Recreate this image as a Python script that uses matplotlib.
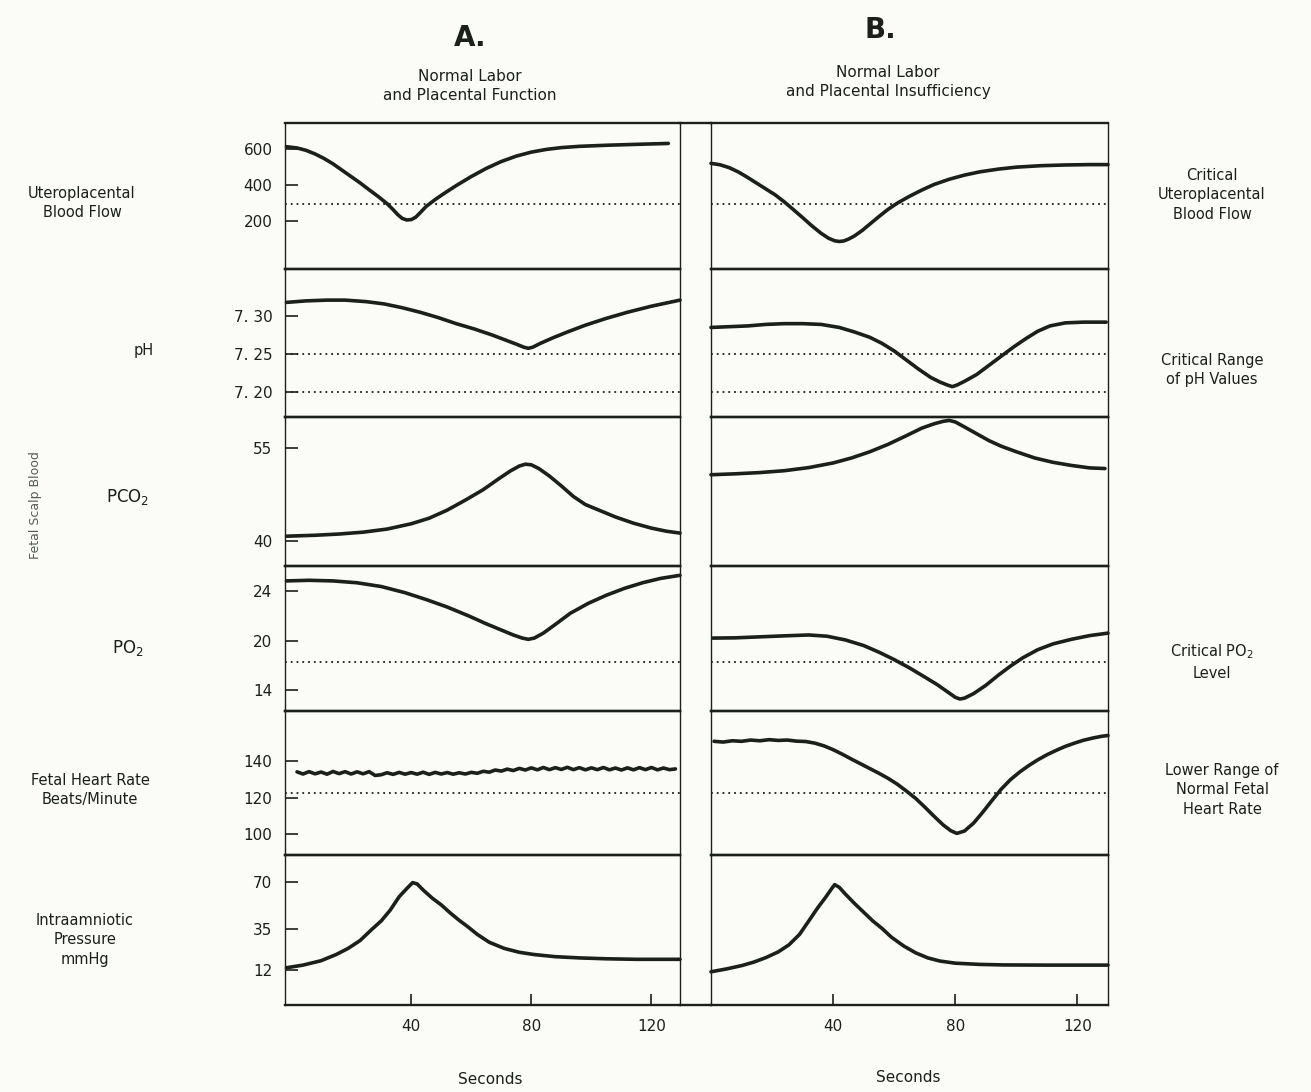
import numpy as np
import matplotlib.pyplot as plt
from matplotlib.lines import Line2D

# ---- values (time in seconds) ----
# A. normal labor and placental function
flow_a_t = [-1.5, 2, 5, 8, 11, 14, 17, 20, 23, 26, 29, 32, 34, 35.5, 37, 38.5, 40, 41.5, 43,
            45, 48, 51, 55, 60, 65, 70, 75, 80, 85, 90, 96, 105, 115, 125.6]
flow_a = [610, 603, 590, 570, 545, 515, 480, 445, 410, 372, 335, 295, 262, 235, 214, 205, 207,
          220, 245, 280, 318, 352, 395, 445, 490, 528, 558, 580, 595, 605, 612, 618, 623, 628]

ph_a_t = [-1.5, 5, 12, 18, 25, 31, 37, 43, 49, 55, 61, 67, 71, 75, 77.5, 79, 80.5, 83, 87,
          92, 98, 105, 112, 120, 129.5]
ph_a = [7.318, 7.320, 7.321, 7.321, 7.319, 7.316, 7.311, 7.305, 7.298, 7.290, 7.283, 7.275,
        7.269, 7.263, 7.259, 7.2575, 7.259, 7.264, 7.271, 7.279, 7.288, 7.297, 7.305, 7.313,
        7.321]

pco2_a_t = [-1.5, 8, 16, 24, 32, 40, 46, 52, 58, 64, 69, 73, 76, 78, 80, 82.5, 86, 90, 94,
            98, 103, 108, 114, 120, 125, 129.5]
pco2_a = [40.8, 40.95, 41.15, 41.45, 41.95, 42.8, 43.7, 45.0, 46.6, 48.3, 50.0, 51.3, 52.1,
          52.4, 52.3, 51.7, 50.5, 48.9, 47.2, 45.9, 44.9, 43.9, 42.9, 42.1, 41.6, 41.3]

po2_a_t = [-1.5, 6, 14, 22, 30, 38, 45, 52, 59, 65, 70, 74, 77, 79, 81, 84, 88, 93, 99, 105,
           111, 117, 123, 129.5]
po2_a = [24.8, 24.85, 24.8, 24.65, 24.35, 23.85, 23.3, 22.7, 22.0, 21.35, 20.85, 20.45, 20.2,
         20.1, 20.2, 20.6, 21.3, 22.2, 23.0, 23.65, 24.2, 24.65, 25.0, 25.25]

fhr_a_t = [2, 4, 6, 8, 10, 12, 14, 16, 18, 20, 22, 24, 26, 28, 30, 32, 34, 36, 38, 40,
           42, 44, 46, 48, 50, 52, 54, 56, 58, 60, 62, 64, 66, 68, 70, 72, 74, 76, 78, 80,
           82, 84, 86, 88, 90, 92, 94, 96, 98, 100, 102, 104, 106, 108, 110, 112, 114, 116,
           118, 120, 122, 124, 126, 128]
fhr_a = [134.2, 133.0, 134.3, 133.1, 134.1, 132.9, 134.4, 133.2, 134.3, 133.0, 134.2, 133.1,
         134.3, 132.2, 132.6, 133.7, 132.8, 133.9, 132.9, 133.8, 132.9, 134.0, 132.8, 133.9,
         133.0, 133.8, 132.9, 133.7, 133.0, 133.9, 133.4, 134.5, 134.0, 135.2, 134.6, 135.7,
         134.9, 136.1, 135.2, 136.4, 135.3, 136.6, 135.4, 136.5, 135.5, 136.7, 135.4, 136.5,
         135.3, 136.4, 135.4, 136.6, 135.3, 136.3, 135.2, 136.4, 135.3, 136.5, 135.4, 136.6,
         135.3, 136.3, 135.4, 135.8]

iap_a_t = [-1.5, 4, 10, 15, 19, 23, 27, 30, 33, 36, 38.5, 40.5, 42, 44, 47, 50, 53, 56, 59,
           62, 66, 71, 76, 81, 88, 96, 105, 115, 129.5]
iap_a = [13, 14.5, 17, 20.5, 24, 28.5, 35, 41, 49, 59, 65, 69.5, 68.5, 64, 58, 53, 47, 41.5,
         36.5, 32, 27.5, 24, 21.8, 20.5, 19.3, 18.6, 18.1, 17.8, 17.8]

# B. normal labor and placental insufficiency
flow_b_t = [0, 3, 6, 9, 12, 15, 18, 21, 24, 27, 30, 33, 36, 38.5, 40.5, 42, 43.5, 45, 47,
            49.5, 52, 55, 58, 61, 65, 69, 73, 78, 83, 88, 94, 100, 108, 116, 124, 130]
flow_b = [518, 510, 494, 470, 440, 408, 376, 344, 305, 262, 218, 173, 132, 104, 90, 86, 89, 99,
          117, 147, 182, 224, 264, 298, 336, 370, 401, 430, 453, 471, 486, 497, 505, 509, 511, 511]

ph_b_t = [0, 6, 12, 18, 24, 30, 36, 42, 47, 52, 56, 60, 64, 68, 72, 75, 77.5, 79, 80.5, 83,
          87, 91, 95, 99, 103, 107, 111, 116, 122, 129.4]
ph_b = [7.285, 7.286, 7.287, 7.289, 7.290, 7.290, 7.289, 7.285, 7.279, 7.272, 7.264, 7.254,
        7.242, 7.230, 7.219, 7.213, 7.209, 7.207, 7.209, 7.214, 7.223, 7.235, 7.247, 7.259,
        7.270, 7.280, 7.287, 7.291, 7.292, 7.292]

pco2_b_t = [0, 8, 16, 24, 32, 40, 46, 52, 58, 64, 69, 73, 76, 78, 80, 83, 87, 91, 95, 100,
            106, 112, 118, 124, 129]
pco2_b = [50.7, 50.85, 51.05, 51.35, 51.85, 52.6, 53.4, 54.4, 55.6, 57.0, 58.2, 58.9, 59.3,
          59.45, 59.2, 58.4, 57.3, 56.2, 55.3, 54.4, 53.4, 52.7, 52.2, 51.8, 51.7]

po2_b_t = [0.6, 8, 16, 24, 32, 38, 44, 50, 55, 60, 65, 70, 74, 77.5, 80, 81.5, 83, 86, 90,
           94, 98, 102, 107, 112, 118, 124, 130]
po2_b = [20.2, 20.22, 20.3, 20.38, 20.45, 20.35, 20.05, 19.4, 18.6, 17.7, 16.7, 15.6, 14.7,
         13.8, 13.15, 12.95, 13.05, 13.6, 14.6, 15.8, 16.9, 17.9, 18.9, 19.6, 20.1, 20.4, 20.6]

fhr_b_t = [1, 4, 7, 10, 13, 16, 19, 22, 25, 28, 31, 34, 37, 40, 43, 46, 49, 52, 55, 58, 61, 64,
           67, 70, 73, 76, 78.5, 80.5, 83, 86, 89, 92, 95, 98, 101, 104, 107, 110, 113, 116,
           119, 122, 125, 128, 130]
fhr_b = [151.0, 150.6, 151.3, 151.0, 151.7, 151.3, 151.9, 151.5, 151.7, 151.1, 150.9, 150.0,
         148.5, 146.4, 143.9, 141.2, 138.6, 136.0, 133.4, 130.6, 127.4, 123.6, 119.6, 114.8,
         109.8, 105.0, 101.8, 100.3, 101.6, 106.0, 112.0, 118.4, 124.6, 129.8, 134.0, 137.6,
         140.8, 143.6, 146.0, 148.2, 150.0, 151.6, 152.8, 153.8, 154.2]

iap_b_t = [0, 5, 10, 14, 18, 22, 25.5, 29, 32, 35, 37.5, 39.5, 40.5, 42, 44, 47, 50, 53, 56,
           59, 63, 67, 71, 75, 80, 88, 96, 110, 130]
iap_b = [10.7, 12.3, 14.2, 16.2, 18.8, 22, 26, 32, 41, 51, 58.5, 65, 68, 66, 61, 54, 47.5,
         41, 35.5, 30.5, 25.5, 21.5, 18.6, 16.8, 15.6, 14.9, 14.6, 14.5, 14.5]

# critical levels (dotted lines)
flow_crit = 292
ph_crit = [7.25, 7.20]
po2_crit = 17.4
fhr_crit = 122.5

flow_ticks = [200, 400, 600]
ph_ticks = [7.20, 7.25, 7.30]
ph_ticklabels = ['7. 20', '7. 25', '7. 30']
pco2_ticks = [40, 55]
po2_ticks = [14, 20, 24]
fhr_ticks = [100, 120, 140]
iap_ticks = [12, 35, 70]
sec_ticks = [40, 80, 120]

INK = '#1b201b'
BG = '#fbfcf8'

plt.rcParams['font.family'] = ['DejaVu Sans']
plt.rcParams['text.color'] = INK
plt.rcParams['mathtext.default'] = 'regular'


def piecewise(vals, pos):
    """uneven printed axis -> evenly placed tick labels"""
    vals = np.asarray(vals, float)
    pos = np.asarray(pos, float)
    s0 = (pos[1] - pos[0]) / (vals[1] - vals[0])
    s1 = (pos[-1] - pos[-2]) / (vals[-1] - vals[-2])

    def fwd(v):
        v = np.asarray(v, float)
        out = np.interp(v, vals, pos)
        out = np.where(v < vals[0], pos[0] + (v - vals[0]) * s0, out)
        return np.where(v > vals[-1], pos[-1] + (v - vals[-1]) * s1, out)

    def inv(p):
        p = np.asarray(p, float)
        out = np.interp(p, pos, vals)
        out = np.where(p < pos[0], vals[0] + (p - pos[0]) / s0, out)
        return np.where(p > pos[-1], vals[-1] + (p - pos[-1]) / s1, out)

    return fwd, inv


W, H = 1311, 1092
fig = plt.figure(figsize=(W / 100, H / 100), dpi=100, facecolor=BG)


def fx(px):
    return px / W


def fy(py):
    return 1 - py / H


rows = [123, 269, 417, 566, 711, 855, 1005]
cols = [(285, 680, (-2, 129.5)), (711, 1108, (0, 130))]

panels = [
    # (A data, B data, ylim, ticks, labels, dotted, scale)
    ((flow_a_t, flow_a), (flow_b_t, flow_b), (-66, 741), flow_ticks, None, [flow_crit], None),
    ((ph_a_t, ph_a), (ph_b_t, ph_b), (7.167, 7.362), ph_ticks, ph_ticklabels, ph_crit, None),
    ((pco2_a_t, pco2_a), (pco2_b_t, pco2_b), (36, 60), pco2_ticks, None, [], None),
    ((po2_a_t, po2_a), (po2_b_t, po2_b), (11.5, 26.0), po2_ticks, None, [po2_crit],
     piecewise([14, 20, 24], [0, 1, 2])),
    ((fhr_a_t, fhr_a), (fhr_b_t, fhr_b), (88.4, 167.7), fhr_ticks, None, [fhr_crit], None),
    ((iap_a_t, iap_a), (iap_b_t, iap_b), (-8.2, 90), iap_ticks, None, [],
     piecewise([12, 35, 70], [0, 120, 260])),
]

for c, (x0, x1, xlim) in enumerate(cols):
    for r, (da, db, ylim, ticks, labels, dotted, scale) in enumerate(panels):
        ax = fig.add_axes([fx(x0), fy(rows[r + 1]), (x1 - x0) / W, (rows[r + 1] - rows[r]) / H])
        ax.set_facecolor('none')
        if scale is not None:
            ax.set_yscale('function', functions=scale)
        t, v = da if c == 0 else db
        ax.plot(t, v, color=INK, lw=2.6, solid_capstyle='round', solid_joinstyle='round',
                clip_on=False)
        for d in dotted:
            ax.axhline(d, color=INK, lw=1.3, linestyle=(0, (1, 2.2)))
        ax.set_xlim(*xlim)
        ax.set_ylim(*ylim)
        for s in ['left', 'right']:
            ax.spines[s].set_linewidth(1.0)
            ax.spines[s].set_color(INK)
        for s in ['top', 'bottom']:
            ax.spines[s].set_linewidth(1.7)
            ax.spines[s].set_color(INK)
        if c == 0:
            ax.set_yticks(ticks)
            ax.set_yticklabels(labels if labels else [str(k) for k in ticks])
            ax.tick_params(axis='y', direction='in', length=9, width=1.2, pad=9,
                           labelsize=11, colors=INK)
        else:
            ax.set_yticks([])
        ax.yaxis.set_minor_locator(plt.NullLocator())
        if r == 5:
            ax.set_xticks(sec_ticks)
            ax.tick_params(axis='x', direction='in', length=8, width=1.2, pad=10,
                           labelsize=11, colors=INK)
        else:
            ax.set_xticks([])

# border continues across the white strip between the two columns
for yy in (rows[0], rows[-1]):
    fig.add_artist(Line2D([fx(680), fx(711)], [fy(yy), fy(yy)], color=INK, lw=1.7))

fig.text(fx(470), fy(38), 'A.', fontsize=20, fontweight='bold', ha='center', va='center')
fig.text(fx(880), fy(30), 'B.', fontsize=20, fontweight='bold', ha='center', va='center')
fig.text(fx(470), fy(86), 'Normal Labor\nand Placental Function', fontsize=11,
         ha='center', va='center', linespacing=1.35)
fig.text(fx(888), fy(82), 'Normal Labor\nand Placental Insufficiency', fontsize=11,
         ha='center', va='center', linespacing=1.35)

left_labels = [
    ('Uteroplacental\nBlood Flow', 82, 203, 10.5),
    ('pH', 144, 350, 10.5),
    ('PCO$_2$', 128, 497, 12),
    ('PO$_2$', 128, 648, 12),
    ('Fetal Heart Rate\nBeats/Minute', 90, 790, 10.5),
    ('Intraamniotic\nPressure\nmmHg', 85, 940, 10.5),
]
for txt, x, y, fs in left_labels:
    fig.text(fx(x), fy(y), txt, fontsize=fs, ha='center', va='center', linespacing=1.4)

fig.text(fx(35), fy(505), 'Fetal Scalp Blood', fontsize=9, rotation=90,
         ha='center', va='center', color='#555a55')

right_labels = [
    ('Critical\nUteroplacental\nBlood Flow', 1212, 195),
    ('Critical Range\nof pH Values', 1212, 370),
    ('Critical PO$_2$\nLevel', 1212, 662),
    ('Lower Range of\nNormal Fetal\nHeart Rate', 1222, 790),
]
for txt, x, y in right_labels:
    fig.text(fx(x), fy(y), txt, fontsize=10.5, ha='center', va='center', linespacing=1.4)

fig.text(fx(490), fy(1080), 'Seconds', fontsize=11, ha='center', va='center')
fig.text(fx(908), fy(1078), 'Seconds', fontsize=11, ha='center', va='center')

fig.savefig('out.png', dpi=100, facecolor=BG)
